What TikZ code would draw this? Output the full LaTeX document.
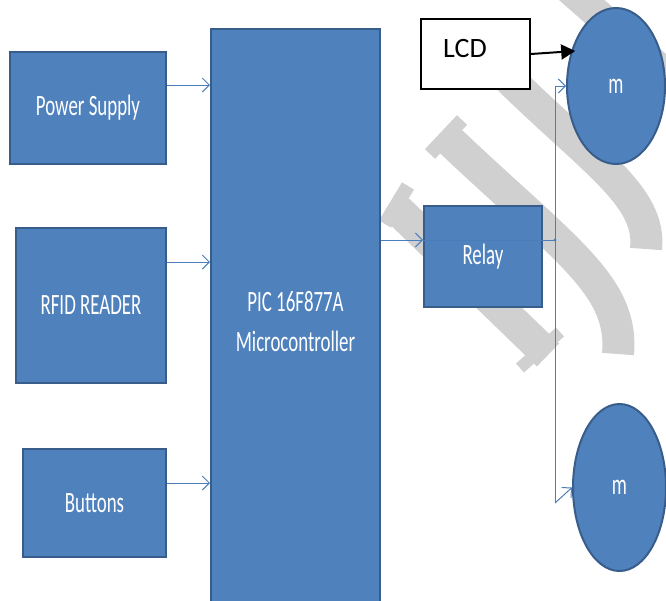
\documentclass[tikz,border=0pt]{standalone}
\usepackage{fontspec}
\setmainfont{Carlito}
\usetikzlibrary{arrows.meta,shapes.geometric}
\definecolor{boxblue}{HTML}{4F81BD}
\definecolor{boxedge}{HTML}{385D8A}
\definecolor{linkblue}{HTML}{4A7EBB}
\definecolor{wm}{HTML}{D0D0D0}
\newcommand{\narrow}[1]{\scalebox{0.64}[1]{#1}}
\begin{document}
\begin{tikzpicture}[x=1pt,y=-1pt,
  blk/.style={draw=boxedge, line width=2pt, fill=boxblue, text=white,
    font=\fontsize{29.5}{40}\selectfont, align=center, inner sep=0pt, rectangle},
  oval/.style={blk, ellipse},
  conn/.style={draw=linkblue, line width=1pt, -{Straight Barb[length=7pt,width=14pt,line width=1pt]}},
  wire/.style={draw=linkblue, line width=1pt},
  lcdarrow/.style={draw=black, line width=2pt, -{Triangle[length=14pt,width=15pt]}},
  band/.style={draw=wm, line width=32pt}
]
\useasboundingbox (0,0) rectangle (666,600);
% watermark
\draw[band, line width=30pt] (568,-12) -- (690,95);
\draw[band] (498,68) .. controls (590,160) and (652,195) .. (646,249);
\draw[band] (445,136) .. controls (565,250) and (624,285) .. (618,354);
\draw[band] (398,210) -- (548,355);
\draw[wm, line width=14pt] (385,224) -- (408,186);
\draw[wm, line width=14pt] (430,154) -- (462,120);
\draw[wm, line width=12pt] (520,368) -- (560,332);

% blocks
\node[blk, minimum width=156pt, minimum height=112pt] (power) at (88,108) {\narrow{Power Supply}};
\node[blk, minimum width=150pt, minimum height=155pt] (rfid) at (91,305.5) {\narrow{RFID READER}};
\node[blk, minimum width=143pt, minimum height=108pt] (buttons) at (94.5,503) {\narrow{Buttons}};
\node[blk, minimum width=169pt, minimum height=585pt] (pic) at (295.5,321.5) {\narrow{PIC 16F877A}\\\narrow{Microcontroller}};
\node[blk, minimum width=118pt, minimum height=101pt] (relay) at (483,256.5) {\narrow{Relay}};
\node[draw=black, line width=2pt, fill=white, minimum width=109pt, minimum height=70pt, inner sep=0pt] (lcd) at (475.5,54) {};
\node[text=black, font=\fontsize{28}{30}\selectfont, inner sep=0pt] (lcdtext) at (465,49) {LCD};
\node[oval, minimum width=98pt, minimum height=156pt] (top) at (616,86) {\narrow{m}};
\node[oval, minimum width=93pt, minimum height=167pt] (bot) at (619.5,487.5) {\narrow{m}};

% coordinates
\coordinate (ya) at (0,85);
\coordinate (yb) at (0,262);
\coordinate (yc) at (0,483);
\coordinate (jr) at (555,240);
\coordinate (jt) at (555,86);
\coordinate (jb) at (555,503);

% connectors
\draw[conn] (power.east |- ya) -- (pic.west |- ya);
\draw[conn] (rfid.east |- yb) -- (pic.west |- yb);
\draw[conn] (buttons.east |- yc) -- (pic.west |- yc);
\draw[conn] (pic.east |- jr) -- (relay.west |- jr);
\draw[wire] (relay.west |- jr) -- (jr);
\fill[linkblue] (jr) circle (1.6pt);
\draw[wire] (jt) -- (jb);
\draw[conn] (jt) -- (top.west);
\draw[conn] (jb) -- (bot.west);
\draw[lcdarrow] (lcd.east) -- ([xshift=4pt]top.142);
\end{tikzpicture}
\end{document}
